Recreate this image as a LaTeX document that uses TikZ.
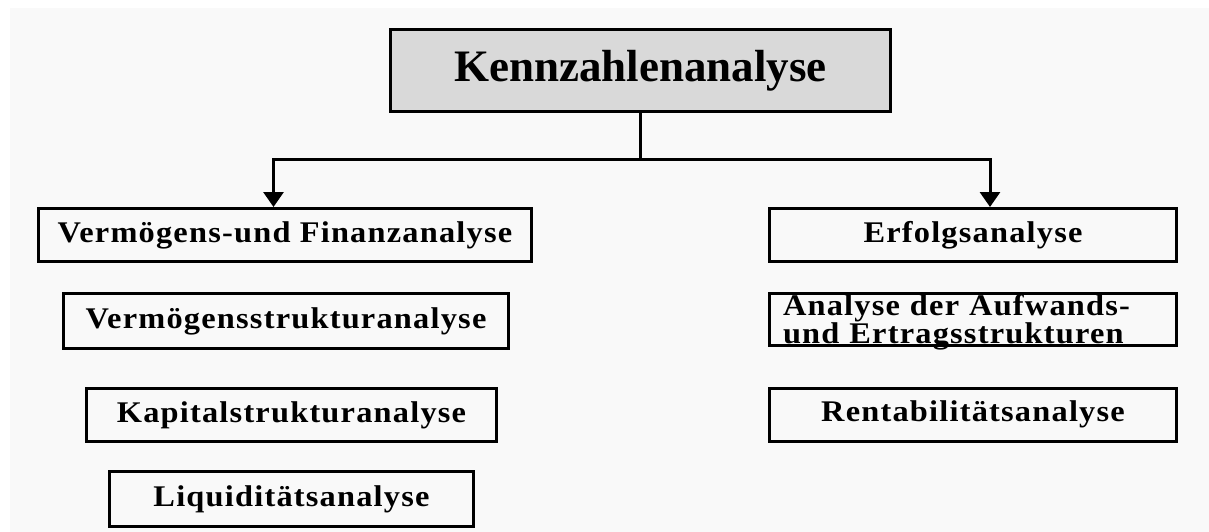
\documentclass[tikz,border=0pt]{standalone}
\usepackage{fontspec}
\setmainfont{Liberation Serif}
\newfontfamily\spacedfont{Liberation Serif}[LetterSpace=4,FakeStretch=1.08]
\usetikzlibrary{arrows.meta}
\definecolor{headgray}{HTML}{D9D9D9}
\definecolor{paper}{HTML}{F9F9F9}
\tikzset{
	treenode/.style = {draw, line width=3pt, inner sep=0pt, text centered},
	headbox/.style = {treenode, fill=headgray, font=\bfseries\fontsize{45}{50}\selectfont},
	subbox/.style = {treenode, minimum height=53pt, font=\spacedfont\bfseries\fontsize{30}{23}\selectfont},
	link/.style = {line width=3pt}
}

\begin{document}
\begin{tikzpicture}[x=1pt,y=-1pt,>={Triangle[width=20pt,length=15pt]}]
	\fill[white] (0,0) rectangle (1209,532);
	\fill[paper] (10,8) rectangle (1209,532);
	\node[headbox, minimum width=500pt, minimum height=82pt] (kenn) at (640.5,70.5) {Kennzahlenanalyse};
	% linke Seite
	\node[subbox, minimum width=493pt] (vfa) at (285,235) {Vermögens-und Finanzanalyse};
	\node[subbox, minimum width=445pt, minimum height=55pt] (vsa) at (286,321) {Vermögensstrukturanalyse};
	\node[subbox, minimum width=410pt] (ksa) at (291.5,415) {Kapitalstrukturanalyse};
	\node[subbox, minimum width=364pt, minimum height=55pt] (lqa) at (291.5,499) {Liquiditätsanalyse};
	% rechte Seite
	\node[subbox, minimum width=407pt] (efa) at (973,235) {Erfolgsanalyse};
	\node[subbox, text width=380pt, inner xsep=13.5pt, align=left, text height=22pt, text depth=30pt, minimum height=52pt] (aea) at (973,319.5) {Analyse der Aufwands-\\und Ertragsstrukturen};
	\node[subbox, minimum width=407pt] (rta) at (973,414.5) {Rentabilitätsanalyse};
	\coordinate (fork) at ([yshift=-46pt]kenn.south);
	\draw[link] (kenn.south) -- (fork);
	\draw[link,->] (fork) -| ([xshift=-11.5pt]vfa.north);
	\draw[link,->] (fork) -| ([xshift=17pt]efa.north);
\end{tikzpicture}
\end{document}
